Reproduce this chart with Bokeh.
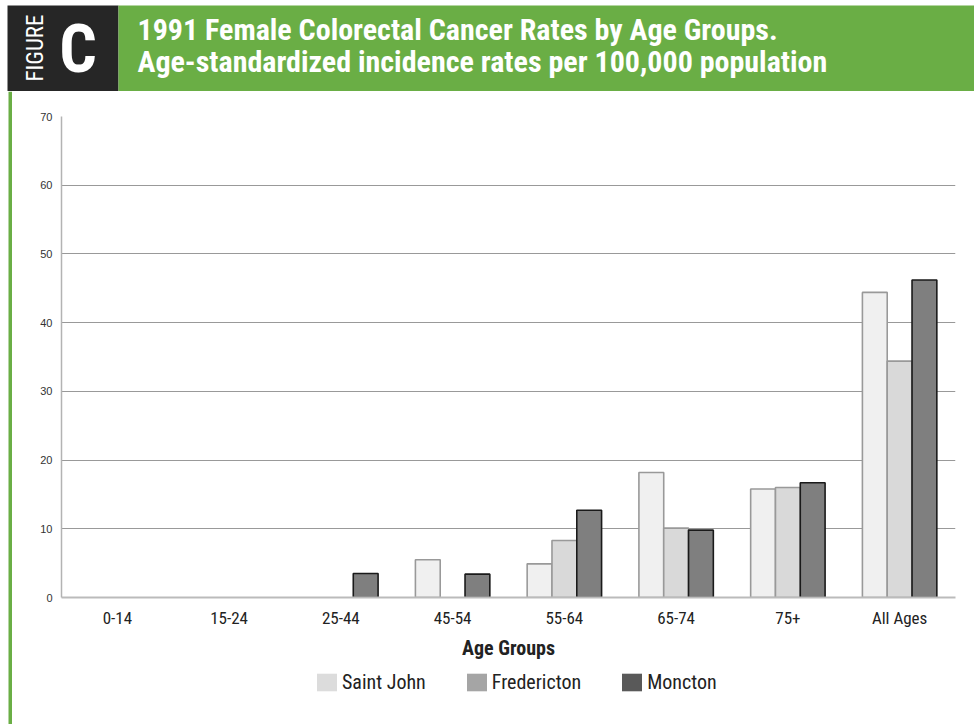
from bokeh.plotting import figure
from bokeh.models import (FactorRange, ColumnDataSource, Legend, LegendItem, FixedTicker)
from bokeh.core.properties import value
from bokeh.layouts import column, row
from bokeh.transform import dodge
from bokeh.embed import file_html
from bokeh.resources import INLINE
import math

# ---- data ----
categories = ["0-14", "15-24", "25-44", "45-54", "55-64", "65-74", "75+", "All Ages"]
saint_john = [0, 0, 0, 5.5, 4.9, 18.2, 15.8, 44.4]
fredericton = [0, 0, 0, 0, 8.3, 10.1, 16.0, 34.4]
moncton = [0, 0, 3.5, 3.4, 12.7, 9.8, 16.7, 46.2]
series_names = ["Saint John", "Fredericton", "Moncton"]
y_ticks = [0, 10, 20, 30, 40, 50, 60, 70]
title_line1 = "1991 Female Colorectal Cancer Rates by Age Groups."
title_line2 = "Age-standardized incidence rates per 100,000 population"
x_axis_title = "Age Groups"

COND = "Roboto Condensed"
REG = "Liberation Sans"
GREEN = "#6aae45"
DARK = "#262626"

W = 974
HEAD_H = 91
MAIN_H = 575
LEG_H = 58
SIDE_W = 12


def bare(fig):
    fig.axis.visible = False
    fig.xgrid.grid_line_color = None
    fig.ygrid.grid_line_color = None
    fig.outline_line_color = None
    fig.min_border = 0
    return fig


# ---- header ----
hf = bare(figure(width=W, height=HEAD_H, x_range=(0, W), y_range=(HEAD_H, 0),
                 output_backend="svg", toolbar_location=None))
hf.quad(left=[7, 118], right=[118, W], top=[5, 5], bottom=[HEAD_H, HEAD_H],
        fill_color=[DARK, GREEN], line_color=None)
hf.text(x=[35], y=[47.5], text=["FIGURE"], angle=math.pi / 2,
        text_align="center", text_baseline="alphabetic",
        text_font=value(COND), text_font_size="23px", text_color="white")
hf.text(x=[77.5], y=[49], text=["C"], text_align="center", text_baseline="alphabetic",
        text_font=value(COND), text_font_size="66px", text_font_style="bold",
        text_color="white")
hf.text(x=[137, 137], y=[28.5, 60.5], text=[title_line1, title_line2],
        text_align="left", text_baseline="alphabetic",
        text_font=value(COND), text_font_size="30px", text_font_style="bold",
        text_color="white")

# ---- green rule on the left ----
gl = bare(figure(width=SIDE_W, height=MAIN_H + LEG_H, x_range=(0, SIDE_W), y_range=(0, 1),
                 output_backend="svg", toolbar_location=None))
gl.quad(left=[8], right=[12], top=[1], bottom=[0], fill_color=GREEN, line_color=None)

# ---- main chart ----
def edge_alpha(vals):
    return [1.0 if v > 0 else 0.0 for v in vals]

src = ColumnDataSource(dict(cat=categories, sj=saint_john, fr=fredericton, mo=moncton,
                            sj_a=edge_alpha(saint_john), fr_a=edge_alpha(fredericton),
                            mo_a=edge_alpha(moncton)))
p = figure(width=W - SIDE_W, height=MAIN_H, x_range=FactorRange(*categories), y_range=(0, 70),
           output_backend="svg", toolbar_location=None,
           min_border_left=49, min_border_right=19, min_border_top=25, min_border_bottom=69)
p.outline_line_color = None

bw = 0.222
bar_styles = [
    ("sj", -bw, "#f0f0f0", "#999999"),
    ("fr", 0.0, "#d9d9d9", "#999999"),
    ("mo", bw, "#7f7f7f", "#1a1a1a"),
]
for col, off, fill, line in bar_styles:
    p.vbar(x=dodge("cat", off, range=p.x_range), top=col, width=bw, source=src,
           fill_color=fill, line_color=line, line_width=1.6,
           line_alpha=col + "_a", fill_alpha=col + "_a")

p.yaxis.ticker = FixedTicker(ticks=y_ticks)
p.yaxis.major_tick_line_color = None
p.yaxis.major_tick_out = 0
p.yaxis.minor_tick_line_color = None
p.yaxis.minor_tick_out = 0
p.yaxis.axis_line_color = "#b3b3b3"
p.yaxis.axis_line_width = 1.5
p.yaxis.major_label_text_font = REG
p.yaxis.major_label_text_font_size = "11px"
p.yaxis.major_label_text_color = "#333333"
p.yaxis.major_label_standoff = 9

p.xaxis.major_tick_line_color = None
p.xaxis.major_tick_out = 0
p.xaxis.minor_tick_line_color = None
p.xaxis.minor_tick_out = 0
p.xaxis.axis_line_color = "#bbbbbb"
p.xaxis.axis_line_width = 2
p.xaxis.major_label_text_font = COND
p.xaxis.major_label_text_font_size = "17px"
p.xaxis.major_label_text_color = "#222222"
p.xaxis.major_label_standoff = 10
p.xaxis.axis_label = x_axis_title
p.xaxis.axis_label_text_font = COND
p.xaxis.axis_label_text_font_size = "20px"
p.xaxis.axis_label_text_font_style = "bold"
p.xaxis.axis_label_text_color = "#222222"
p.xaxis.axis_label_standoff = 5

p.xgrid.grid_line_color = None
p.ygrid.grid_line_color = "#999999"
p.ygrid.grid_line_width = 1

# ---- legend strip ----
lf = bare(figure(width=W - SIDE_W, height=LEG_H, x_range=(0, 1), y_range=(0, 1),
                 output_backend="svg", toolbar_location=None))
leg_colors = ["#dcdcdc", "#a5a5a5", "#595959"]
items = []
for name, c in zip(series_names, leg_colors):
    r = lf.vbar(x=[0.5], top=[1], width=0.1, fill_color=c, line_color=None, visible=False)
    items.append(LegendItem(label=name, renderers=[r]))
legend = Legend(items=items, orientation="horizontal", location=(253, 30),
                glyph_width=25, glyph_height=22, label_standoff=3, spacing=38,
                padding=0, margin=0, border_line_color=None, background_fill_alpha=0,
                label_text_font=COND, label_text_font_size="20px",
                label_text_color="#222222", label_height=22)
lf.add_layout(legend, "center")

layout = column(hf, row(gl, column(p, lf, spacing=0), spacing=0), spacing=0)
open("out.html", "w").write(file_html(layout, INLINE))
